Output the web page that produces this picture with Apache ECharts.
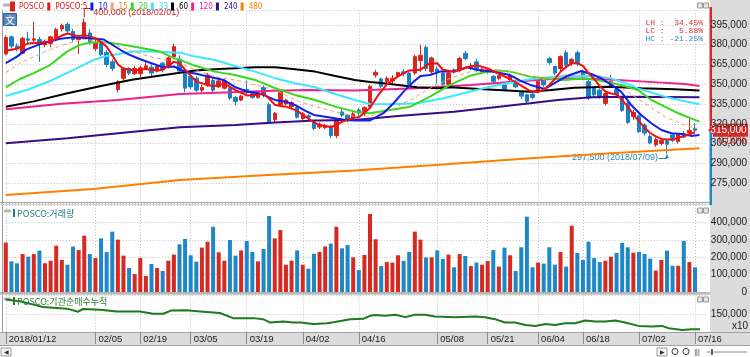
<!DOCTYPE html>
<html><head><meta charset="utf-8">
<script src="https://cdn.jsdelivr.net/npm/echarts@6/dist/echarts.min.js"></script>
<style>
html,body{margin:0;padding:0;background:#fff;}
#c{width:750px;height:357px;
background:
 linear-gradient(#dcdcdc,#dcdcdc) 710px 0/40px 345px no-repeat,
 linear-gradient(#dcdcdc,#dcdcdc) 0 332px/750px 13px no-repeat,
 #fff;}
</style></head>
<body><div id="c"></div>
<script>
// ---------------- data (prices in thousand won, volume in thousand shares) ----------------
const year = '2018';
const dates = [
 '01/12','01/15','01/16','01/17','01/18','01/19','01/22','01/23','01/24','01/25','01/26','01/29','01/30','01/31',
 '02/01','02/02','02/05','02/06','02/07','02/08','02/09','02/12','02/13','02/14','02/19','02/20','02/21','02/22','02/23','02/26','02/27','02/28',
 '03/02','03/05','03/06','03/07','03/08','03/09','03/12','03/13','03/14','03/15','03/16','03/19','03/20','03/21','03/22','03/23','03/26','03/27','03/28','03/29','03/30',
 '04/02','04/03','04/04','04/05','04/06','04/09','04/10','04/11','04/12','04/13','04/16','04/17','04/18','04/19','04/20','04/23','04/24','04/25','04/26','04/27','04/30',
 '05/02','05/03','05/04','05/08','05/09','05/10','05/11','05/14','05/15','05/16','05/17','05/18','05/21','05/23','05/24','05/25','05/28','05/29','05/30','05/31',
 '06/01','06/04','06/05','06/07','06/08','06/11','06/12','06/14','06/15','06/18','06/19','06/20','06/21','06/22','06/25','06/26','06/27','06/28','06/29',
 '07/02','07/03','07/04','07/05','07/06','07/09','07/10','07/11','07/12','07/13','07/16'
];
const tickDates = ['01/12','02/05','02/19','03/05','03/19','04/02','04/16','05/08','05/21','06/04','06/18','07/02','07/16'];

// [open, close, low, high]
const candles = [
 [373,385.5,372,387],[386,379,377,387],[379,377,375,381],[373.5,385,373,386],[384.5,383.5,381,390],
 [383.5,384.5,382,397.5],[384,380.5,367,386],[380,382.5,378,384],[381,386,378,387],[385,391.5,383,393],
 [392,394.5,390,396],[395.5,390.5,389,397],[390,384,382,392],[384,385,373,386],[386,397,385,400],
 [389,382.5,380,392],[377,382,375,384],[381,372.5,371,382],[374,365,363,376],[367,362,360,369],
 [346,352,344,353],[354.5,362,353,363],[362,358.5,357,363],[358,362,357,364],[358,362.5,355,364],
 [362,364,361,367],[363,358.5,356,365],[360,363.5,359,365],[366,361,359,367],[364,370,362,372],
 [371,378.5,369,381],[369,360,358,372],[360,347,344,362],[356,348,346,357.5],[354.5,345.5,344,356],
 [345.5,347.5,344,349.5],[349.5,357,348,358.5],[353,345.5,344,355],[348,352.5,347,354],[347,352.5,346,354],
 [347,339.5,338,348],[340,337,334,341],[338,341,337,342],[346,343.5,342.5,353],[343,340,339,344],
 [340,343.5,339,345],[347.5,342,340,349],[334.5,321.5,320,336],[323,328,321,329],[334.5,345,333,346],
 [335,338,334,339],[333,336,331,337],[332.5,325,324,334],[324,327.5,323,329],[326,325,323,327.5],
 [321.5,316.5,315,323],[317.5,319.5,316,321],[317,318.5,316,320],[317.5,311,309,319],[311,323,309,324],
 [329,326.5,325,331.5],[326.5,323,321,327],[324,327.5,323,330],[330.5,328,326,332],[327.5,332.5,326,333],
 [333,348.5,331,349.5],[357,359,355,361],[354,348.5,347,355],[352,354.5,351,356],[352.5,354.5,350.5,357],
 [356.5,359,355,359.5],[359.5,358,356,361.5],[358.5,350,349,359.5],[358.5,371,357,372.5],[368,372,359.5,380],
 [378,362,360,379.5],[359.5,370,358,371],[361.5,359.5,350.5,363.5],[358.5,350,349,359],[350,358.5,349,359],
 [361,359.5,358,362],[361,369.5,359,371],[373.5,369.5,368,375.5],[362,364,361,366],[367,361,359,369.5],
 [359.5,361.5,358,362.5],[359.5,361,358,362],[356,352,350,357],[354.5,356.5,353,357],[349.5,346,345,351],
 [353.5,356.5,352,358],[352,348,347,353.5],[344.5,341,339,345],[342,337,335,343],[342.5,340,338.5,344.5],
 [345.5,352,344.5,353],[353.5,349.5,348,354],[369.5,366.5,364.5,371],[363.5,358.5,357,364],[362,371,360,372],
 [374,364.5,363,376],[366,369,364,370],[374,365.5,364,375.5],[359.5,356,353,361],[352,339.5,338,353.5],
 [347,342,340,348],[345.5,340,339,347],[335.5,343,334,344],[348,352.5,347,357],[346,342,340,347],
 [340,330,329,341],[335.5,321,320,336.5],[325.5,328.5,323,330.5],[326,314,313,327],[319,313,311,320.5],
 [310.5,305.5,304.5,312],[304,308,302.5,309.5],[305,307.5,303.5,309],[307,304.5,297.5,308.5],[311.5,307.5,306,313],
 [306.5,311.5,305,313],[312.5,310,309,314.5],[313,315,312,324],[316.5,315,312.5,320.5]
];
const volumes = [
 284,176,165,218,203,218,238,165,180,266, 184,157,261,241,324,218,195,308,230,347,
 301,209,138,103,195,92,161,138,121,180, 215,274,305,211,174,255,289,375,228,180,
 299,209,239,293,230,176,247,437,308,356, 157,180,239,157,134,220,230,262,278,375,
 251,270,199,126,213,448,303,149,172,169, 211,180,230,347,301,199,199,239,190,215,
 142,218,207,149,169,157,178,241,146,255, 211,121,257,433,142,169,163,257,157,230,
 146,381,224,184,289,195,172,180,203,224, 282,257,226,230,218,192,123,184,238,151,
 151,293,172,142
];
// moving averages: [day index, value]
const ma5 = [[0,375.5],[2,377],[4,381],[6,381.5],[8,382.5],[10,387],[11,388.5],[13,386.5],[14,387.5],[16,385],[17,382],[18,378.5],[19,372],[20,365],[21,362],[23,360.5],[25,361.5],[27,360.5],[28,361],[29,364],[30,367],[31,366],[32,361],[34,352],[36,349.5],[37,348.5],[39,350.5],[41,345.5],[43,341.5],[45,342],[46,343],[47,339],[48,334.5],[49,333.5],[50,333],[52,330],[53,326.5],[54,324],[55,321],[56,319],[58,317.5],[59,319],[60,321.5],[61,323],[62,324.5],[63,325],[65,332],[66.5,342],[68,350],[70,356],[72,360.5],[74,361],[75.5,365.5],[77,366],[78,361],[80,359.5],[82,362.5],[84,364.5],[86,362],[88,358],[90,354],[92,349],[93.5,345],[95,344],[96,346],[97,349.5],[98,354],[99,359.5],[100,363],[101,366],[102,366],[103,364],[104,358.5],[105,354],[106,348.5],[107,344.5],[108,343],[109,342.5],[110,338],[111,333],[112,327],[113,322],[114,317],[115,313],[116,310.5],[117,308.5],[118,308],[119,308],[120,309.5],[121,310.5],[122,312],[123,313.5]];
const ma10 = [[0,366],[2,371],[3.7,376.5],[6.5,381],[9.7,384.5],[12,385.6],[15,385],[17.5,384],[19,380],[20.5,376],[22,372.5],[24,369],[26,366],[28,363],[30,363.5],[32,359.5],[34,358],[36,356],[37.5,354.5],[39,353],[41,347.7],[43,344.5],[44.5,343.5],[46,342],[48,338.1],[50,336.8],[51.6,334.3],[53.4,330],[55,326.7],[57,325.4],[59,324],[60.6,322.9],[62.3,322.4],[65,322.5],[67.4,328],[69.2,335.6],[71,344.4],[72.8,352],[74,356.3],[75.7,357],[77.5,359.6],[79.3,359.6],[81.1,360.9],[82.3,362.9],[84.1,360.9],[87,359.5],[90,357],[91.8,352.8],[93.6,349.5],[96.2,346.5],[98,351],[100.3,356.5],[102.7,360.1],[104.5,357.8],[106.3,354.5],[108.1,349.5],[109.8,344.4],[111.6,334.3],[113.4,326.7],[115.2,320.4],[117,315.3],[118.8,312.8],[120.6,312.3],[122.3,310.8],[123.8,311.5]];
const ma15 = [[0,358.8],[2.5,366],[5,371],[8,376.5],[11,381],[14,384],[16,383],[18.6,381],[20.4,378.5],[22.8,374.8],[25.7,371],[28.7,368.4],[31,366.4],[33.8,360.9],[37.3,355.8],[40.9,353.3],[44.5,349.5],[48.1,345.7],[51.6,338.1],[55.2,333],[58.8,329.2],[62.3,325.4],[65,325.9],[68.6,330.5],[72.2,338.1],[75.7,346.9],[79.3,354.5],[82.9,359.6],[86.5,361.4],[90,359.6],[93.6,356.3],[96.2,353.3],[99.7,357],[103.3,358.3],[106.9,355.8],[110.4,345.7],[114,335.6],[117.6,325.4],[121.2,319.1],[123.5,316]];
const ma20 = [[0,347.7],[2.5,354],[4.9,358.3],[7.9,364.6],[10.9,374.8],[13.2,379.8],[15,381.6],[16.8,382.1],[18.6,381.6],[22.8,378.6],[27.5,374.8],[30.2,369.5],[31.1,368.5],[33.8,364],[37.3,359.6],[40.9,357],[44.5,353.3],[48.1,347],[51.6,341.9],[55.2,338.1],[58.8,333],[62.3,329.2],[65,328],[68.6,330.5],[72.2,333],[75.7,340.6],[79.3,349.5],[82.9,356.5],[85.3,359],[87.6,360.4],[90,359.6],[93.6,355.8],[96.2,354.5],[99.7,353.3],[103.3,354.5],[106.9,352],[109.8,349.5],[112.8,345.7],[115.2,338.1],[117.6,333],[120,328],[122.3,324.1],[123.8,321.6]];
const ma33 = [[0,341.1],[4,346],[7.9,352.5],[12.1,360.9],[15.6,368.4],[18,371.5],[22.8,374.8],[25.7,374.8],[31.1,374],[33.8,371],[37.3,368.4],[40.9,363.9],[44.5,359.6],[48.1,354.5],[51.6,350.7],[55.2,347.7],[58.8,342.6],[62.3,338.1],[65,335],[68.6,334.8],[73.4,335.6],[78.1,339.4],[81.7,343.2],[85.3,347],[88.8,350.2],[93.6,353.8],[96.2,355],[98.5,356],[104.5,356.3],[108,354.5],[110.4,351.2],[112.8,346.9],[115.2,343.7],[117.6,340.6],[120.6,337.6],[123.8,334.8]];
const ma60 = [[0,333],[5,337],[11,343.2],[17,348.7],[22.5,353.5],[27,356.3],[31.1,358.8],[33.8,360.4],[37.3,361.4],[40.9,362.1],[44.5,362.9],[48.1,362.9],[51.6,361.4],[55.2,359.6],[58.8,356.3],[62.3,353.3],[65,351.8],[67.4,350.7],[73.4,347.7],[77,346.9],[79.3,347.7],[85.3,346.2],[93.6,344.4],[97.3,345.7],[101.5,347.4],[107.5,348.2],[113.4,346.9],[119.4,346.2],[123.8,345.2]];
const ma120 = [[0,331],[10,335.2],[20,338.1],[31.1,342.6],[39,343.7],[48,345],[54,345.7],[62.3,345.2],[73.4,346.9],[83,349.5],[93.6,352.8],[99.7,354.5],[106.9,353.8],[114,352],[121.2,350.2],[123.8,348.7]];
const ma240 = [[0,305.2],[11,309],[22.8,314],[31.1,317.3],[40.9,319.1],[48.1,320.9],[55.2,322.4],[62.3,322.9],[70,325.9],[80,329.2],[93.6,335.6],[98.5,338.1],[104.5,340.1],[110.4,340.6],[123.8,340.1]];
const ma480 = [[0,265.9],[15.6,270.5],[31.1,277.4],[46,281],[62.3,284.5],[78,289],[93.6,293.8],[108,297.6],[123.8,301.4]];
// 기관순매수누적 (x10, thousands)
const instCum = [[0,188.9],[2.5,184.3],[5.5,173],[6.6,168.5],[10.9,164],[12.9,155.6],[13.8,163],[16.8,161.1],[19.8,156.4],[23.9,156.4],[26.3,150],[28.1,150],[29.6,159.2],[32.3,159.3],[34.7,156.4],[38.2,151.9],[40.6,138],[44.2,138],[45.9,135.2],[47.2,125.9],[49.5,128.7],[51.3,125.9],[52.5,125.9],[54.9,122.2],[57.3,124.1],[58.5,126.9],[61.5,135.2],[63.8,136.1],[65,144.4],[65.9,146.3],[67.7,144.4],[69.5,147.2],[71.3,140.7],[73,147.2],[74.8,147.2],[76.6,142.6],[80.2,140.7],[83.8,142.6],[85.5,140.7],[87.3,135.2],[89.1,125.9],[90.9,125.9],[92.7,119.4],[94.5,116.7],[96.3,122.2],[98,119.4],[99.8,124.1],[101.6,124.1],[103.4,131.5],[105.2,128.7],[107,128.7],[108.8,131.5],[110.5,125.9],[112.9,116.7],[115.3,114.8],[117.1,116.7],[118.3,110.2],[120.7,105.6],[122.4,107.4],[123.9,107.4]];

// ---------------- styling ----------------
const UP = '#d7261e', DOWN = '#1a80c3';
const UPV = '#d42a22', DOWNV = '#1e87c7';
const NUM = 'Liberation Sans';
const MONO = 'Liberation Mono';
const KR = 'Noto Sans CJK KR';
const LEGF = "'Liberation Sans Narrow','DejaVu Sans Condensed','Liberation Sans'";
const fmt = v => Math.round(v * 1000).toLocaleString('en-US');
const cats = dates.concat(['', '']);
const lastX = cats.length - 1;
const tickSet = new Set(tickDates);
const isTick = i => tickSet.has(cats[i]);
const gridLine = {color:'#c2c2c2', width:1, type:[1,2]};

const maDefs = [
 ['480', ma480, '#ff8000', 2, 'solid'],
 ['240', ma240, '#3c0c84', 2, 'solid'],
 ['120', ma120, '#f0208c', 2, 'solid'],
 ['60', ma60, '#000000', 2, 'solid'],
 ['33', ma33, '#3ee6ff', 2, 'solid'],
 ['20', ma20, '#3ad81e', 2, 'solid'],
 ['15', ma15, '#f2a070', 1, [4,3]],
 ['10', ma10, '#1020e8', 2, 'solid'],
 ['POSCO:5', ma5, '#f01010', 2, 'solid']
];
const legendOrder = ['POSCO','POSCO:5','10','15','20','33','60','120','240','480'];
const legendColor = {'POSCO':UP,'POSCO:5':'#e01010','10':'#1020e8','15':'#f07a30','20':'#2ec81a','33':'#2ad8f0','60':'#000','120':'#f0208c','240':'#3c0c84','480':'#ff8000'};

function catAxis(gi, labels){
  return {type:'category', gridIndex:gi, data:cats, boundaryGap:false,
    axisLine:{show:false},
    axisTick: labels ? {show:true, interval:(i)=>isTick(i), length:12, lineStyle:{color:'#8a8a8a'}} : {show:false},
    axisLabel: labels ? {show:true, interval:(i)=>isTick(i), formatter:(v,i)=> i===0 ? year+'/'+v : v,
      align:'left', padding:[0,0,0,3], margin:7, verticalAlign:'middle', color:'#1a1a1a', fontSize:9.5, fontFamily:NUM} : {show:false},
    splitLine:{show:true, interval:(i)=>isTick(i), lineStyle:gridLine}};
}
function valX(gi){ return {type:'value', gridIndex:gi, min:0, max:lastX, show:false}; }
function yAx(gi, min, max, interval, showMin){
  return {type:'value', gridIndex:gi, position:'right', min, max, interval,
    axisLine:{show:false}, axisTick:{show:false},
    axisLabel:{showMinLabel:showMin, showMaxLabel:false, formatter:fmt, align:'right', margin:40.8,
      color:'#1a1a1a', fontSize:10, fontFamily:NUM},
    splitLine:{show:true, lineStyle:gridLine}};
}

const series = [{
  type:'candlestick', name:'POSCO', xAxisIndex:0, yAxisIndex:0, data:candles, barWidth:4, clip:false,
  itemStyle:{color:UP, color0:DOWN, borderColor:UP, borderColor0:DOWN, borderWidth:1}, z:2
}];
maDefs.forEach(([name, data, color, w, type]) => series.push({
  type:'line', name, xAxisIndex:1, yAxisIndex:0, data, symbol:'none', showSymbol:false, color,
  lineStyle:{color, width:w, type}, z:3, silent:true
}));
series.push({
  type:'bar', name:'거래량', xAxisIndex:2, yAxisIndex:1, barWidth:4, clip:false,
  data: volumes.map((v,i)=>({value:v, itemStyle:{color: candles[i][1] >= candles[i][0] ? UPV : DOWNV}}))
});
series.push({
  type:'line', name:'기관순매수누적', xAxisIndex:4, yAxisIndex:2, data:instCum, symbol:'none',
  lineStyle:{color:'#1d7a1d', width:2}, color:'#1d7a1d', silent:true
});

const option = {
  animation:false,
  textStyle:{fontFamily:NUM},
  grid:[
    {left:5.8, right:42.8, top:10.5, height:192.3},
    {left:5.8, right:42.8, top:205, height:87},
    {left:5.8, right:42.8, top:295.5, height:36.5}
  ],
  xAxis:[catAxis(0,false), valX(0), catAxis(1,false), catAxis(2,true), valX(2)],
  yAxis:[yAx(0,260,406,15,false), yAx(1,0,500,100,true), yAx(2,100,200,50,false)],
  legend:{left:10, top:1.5, padding:0, itemWidth:3, itemHeight:8, itemGap:3, icon:'rect', selectedMode:false,
    textStyle:{fontSize:8, fontFamily:LEGF},
    data: legendOrder.map(n => ({name:n, textStyle:{color:legendColor[n]}}))},
  series
};

const chart = echarts.init(document.getElementById('c'), null, {renderer:'canvas'});
chart.setOption(option);

// ---------------- annotations derived from data ----------------
const lastI = dates.length - 1;
const lastC = candles[lastI][1], prevC = candles[lastI-1][1];
let hiI = 0, loI = 0;
candles.forEach((c,i)=>{ if (c[3] > candles[hiI][3]) hiI = i; if (c[2] < candles[loI][2]) loI = i; });
const hiV = candles[hiI][3], loV = candles[loI][2];
const yC = chart.convertToPixel({yAxisIndex:0}, lastC);
const [hx, hy] = chart.convertToPixel({xAxisIndex:1, yAxisIndex:0}, [hiI, hiV]);
const [lx, ly] = chart.convertToPixel({xAxisIndex:1, yAxisIndex:0}, [loI, loV]);
const pct = v => v.toFixed(2) + '%';
const LH = (hiV-loV)/loV*100, LC = (lastC-loV)/loV*100, HC = (lastC-hiV)/hiV*100;
const chg = (lastC-prevC)/prevC*100;
const statLine = (k, v) => k + ' : ' + pct(v).padStart(7, ' ');

const T = (x,y,text,fill,size,align,font,extra) => ({type:'text', x, y, silent:true,
  style:Object.assign({text, fill, fontSize:size, fontFamily:font||NUM, textAlign:align||'left', textVerticalAlign:'middle'}, extra||{})});
const L = (x1,y1,x2,y2,stroke,w) => ({type:'line', silent:true, shape:{x1,y1,x2,y2}, style:{stroke, lineWidth:w||1}});
const R = (x,y,w,h,fill,stroke) => ({type:'rect', silent:true, shape:{x,y,width:w,height:h}, style:{fill, stroke:stroke||null, lineWidth:1}});

const g = [];
// panel frames
g.push(L(2.5,10,2.5,332,'#9c9c9c'));
g.push(L(0,202.5,710,202.5,'#a4a4a4'));
g.push(L(0,204.5,710,204.5,'#d0d0d0'));
g.push(L(0,293,710,293,'#7a7a7a'));
g.push(L(0,294.5,710,294.5,'#cccccc'));
g.push(L(0,332.5,750,332.5,'#a0a0a0'));
g.push(L(0,345.5,750,345.5,'#a0a0a0'));
// panel buttons
[3,208,297].forEach(y=>{ g.push(R(697.5,y,5,5,'#e4e4e4','#9a9a9a')); g.push(R(703.5,y,5,5,'#e4e4e4','#9a9a9a')); });
g.push(R(3,3.5,7,3,'#b4b4b4'));
// 文 button
g.push(R(3.5,13.5,13,12,'#5a86c0','#2f5f9c'));
g.push(T(10,19.8,'文','#ffffff',10,'center',KR));
// sub panel titles
g.push(R(4,209.5,7,3,'#b4b4b4'));
g.push(R(13,209,2,8,'#1e7a80'));
g.push(T(17,213.5,'POSCO:거래량','#1e7a80',9,'left',KR));
g.push(R(4,297.5,7,3,'#b4b4b4'));
g.push(R(13,297,2,8,'#2a7a2a'));
g.push(T(17,301.5,'POSCO:기관순매수누적','#2a7a2a',9,'left',KR));
g.push(T(748,326,'x10','#1a1a1a',10,'right'));
// LH / LC / HC
g.push(T(703,23,statLine('LH',LH),'#d03030',8,'right',MONO));
g.push(T(703,31,statLine('LC',LC),'#d03030',8,'right',MONO));
g.push(T(703,39,statLine('HC',HC),'#2a88b8',8,'right',MONO));
// axis price bar
g.push(R(709.5,7,2.5,yC-7,'#d42a2a'));
g.push(R(709.5,yC,2.5,205-yC,'#1e87c7'));
// current price tag
g.push({type:'polygon', silent:true, shape:{points:[[708,yC],[714,yC-5],[714,yC+5]]}, style:{fill:'#d42a2a'}});
g.push(R(713,yC-6.5,35,13,'#d42a2a'));
g.push(T(746.5,yC,fmt(lastC),'#ffffff',10,'right'));
g.push(T(746.5,yC+11,pct(chg),'#d42a2a',10,'right'));
// high marker
g.push({type:'polyline', silent:true, shape:{points:[[hx,hy-1],[hx,8.5],[hx+7,8.5]]}, style:{stroke:'#c02020', lineWidth:1, fill:null}});
g.push(T(hx+9,13,fmt(hiV)+' ('+year+'/'+dates[hiI]+')','#d02020',9,'left'));
// low marker
g.push({type:'polyline', silent:true, shape:{points:[[lx-8,158.5],[lx,158.5],[lx,ly+1]]}, style:{stroke:'#2a88b8', lineWidth:1, fill:null}});
g.push({type:'polygon', silent:true, shape:{points:[[lx-2,ly+4.5],[lx+2,ly+4.5],[lx,ly+1]]}, style:{fill:'#2a88b8'}});
g.push(T(lx-9,158,fmt(loV)+' ('+year+'/'+dates[loI]+')','#2a88b8',9,'right'));
// bottom scrollbar / toolbar
g.push(R(1,348,10,8,'#f4f4f4','#9a9a9a'));
g.push(T(6,352,'◀','#333',6,'center'));
g.push(R(657,348,10,8,'#f4f4f4','#9a9a9a'));
g.push(T(662,352,'▶','#333',6,'center'));
g.push({type:'circle', silent:true, shape:{cx:675,cy:351.5,r:3}, style:{fill:null, stroke:'#333', lineWidth:1}});
g.push({type:'circle', silent:true, shape:{cx:686,cy:351.5,r:3}, style:{fill:null, stroke:'#333', lineWidth:1}});
g.push(T(697,352,'|||','#333',7,'center'));
g.push(L(707,352,747,352,'#888'));
g.push(R(711,349,2,6,'#666'));

chart.setOption({graphic:{elements:g}});
</script>
</body></html>
